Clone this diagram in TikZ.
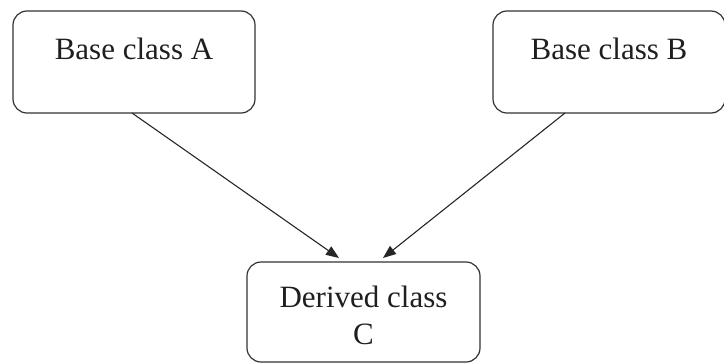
\documentclass[tikz,border=0pt]{standalone}
\usepackage{fontspec}
\setmainfont{Liberation Serif}
\usetikzlibrary{arrows.meta,calc}
\begin{document}
\begin{tikzpicture}[x=1bp,y=1bp,
  box/.style={draw=black!80, line width=1.2bp, rounded corners=14bp, outer sep=0pt,
    inner sep=0pt, text=black!88, font=\fontsize{31bp}{37bp}\selectfont, align=center},
  single/.style={text height=22bp, text depth=27bp},
  arr/.style={draw=black!85, line width=1.1bp, -{Triangle[length=13bp,width=10bp]}}]
\useasboundingbox (0,0) rectangle (724,363);
\node[box, single, minimum width=242bp, minimum height=102bp] (A) at (134,301) {Base class A};
\node[box, single, minimum width=232bp, minimum height=102bp] (B) at (609,301) {Base class B};
\node[box, minimum width=233bp, minimum height=100bp] (C) at (363.5,51) {\rule{0pt}{29bp}Derived class\\C};
\draw[arr] ($(A.south west)+(119,0)$) -- ($(C.north west)+(92,4)$);
\draw[arr] ($(B.south west)+(72,0)$) -- ($(C.north west)+(136,4)$);
\end{tikzpicture}
\end{document}
